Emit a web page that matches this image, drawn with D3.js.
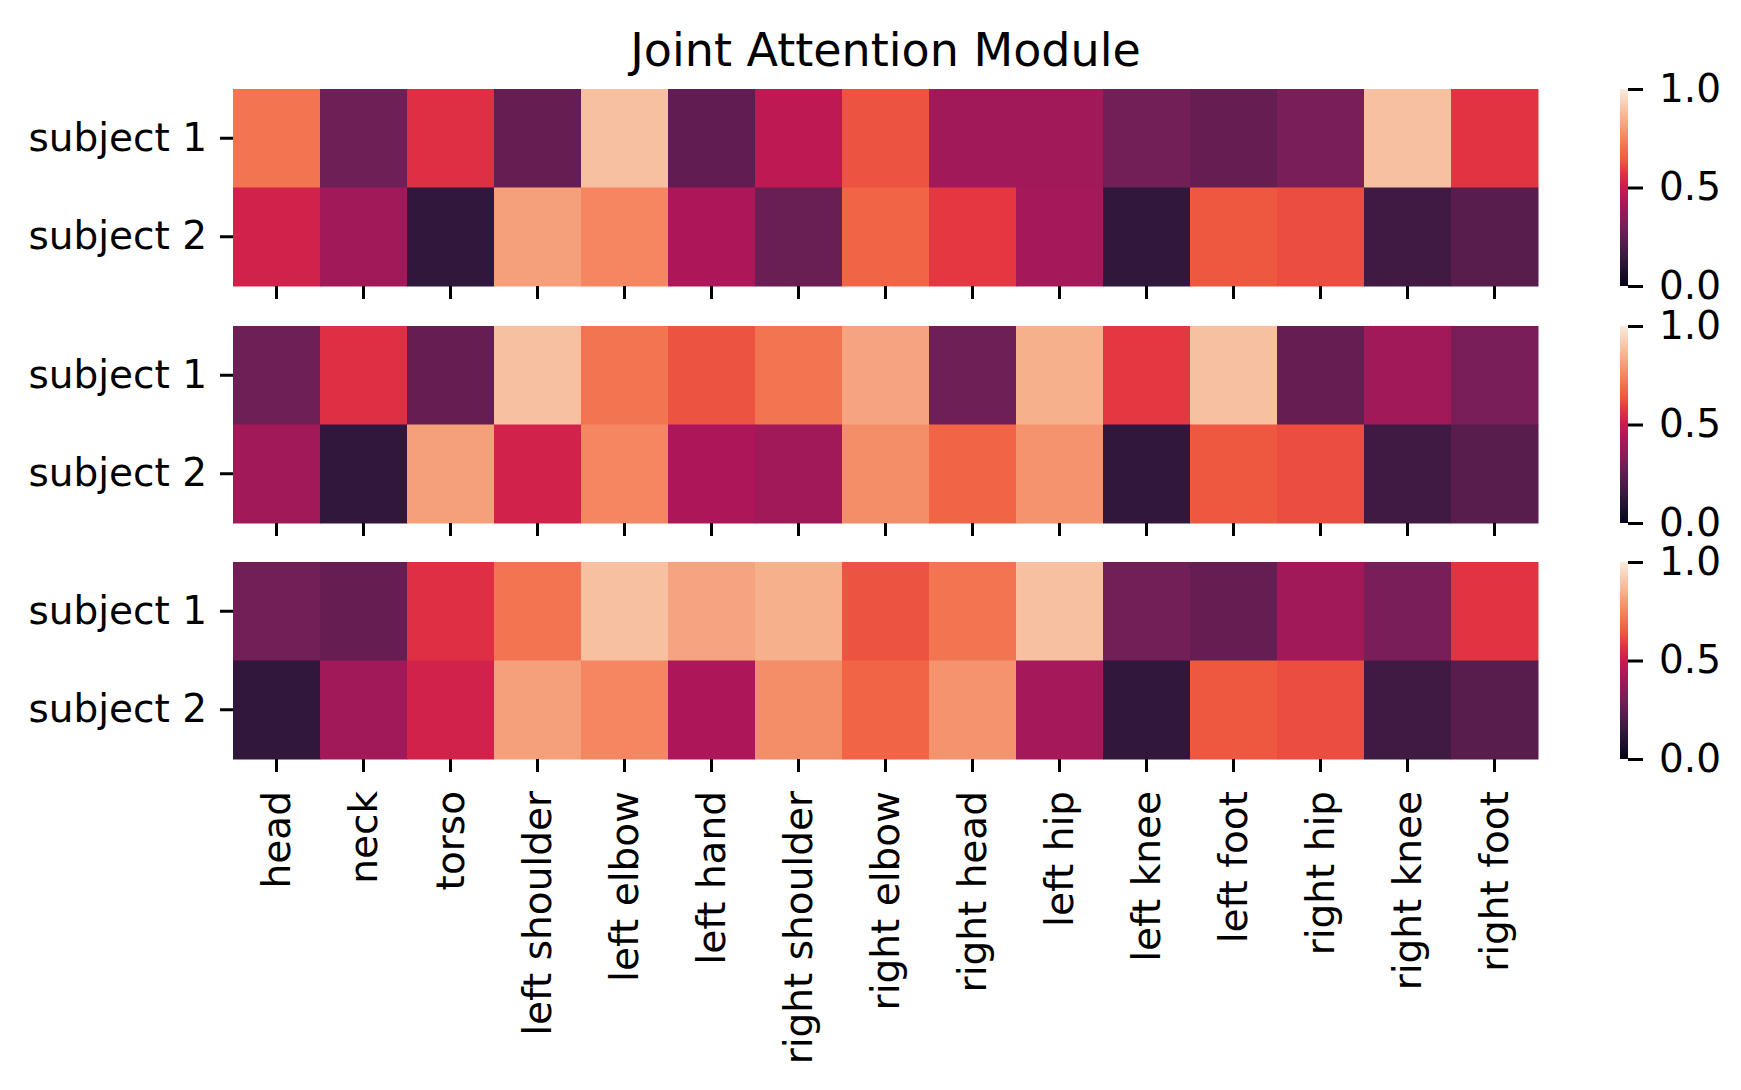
<!DOCTYPE html>
<html>
<head>
<meta charset="utf-8">
<script src="https://cdn.jsdelivr.net/npm/d3@7"></script>
<style>
  html, body { margin: 0; padding: 0; background: #fff; }
  text { font-family: "DejaVu Sans", sans-serif; fill: #000; }
</style>
</head>
<body>
<script>
var joints = ["head", "neck", "torso", "left shoulder", "left elbow", "left hand", "right shoulder",
	"right elbow", "right head", "left hip", "left knee", "left foot", "right hip", "right knee", "right foot"];
var subjects = ["subject 1", "subject 2"];
var cbarTicks = [0, 0.5, 1.0];

// values (one row per subject)
var panel1 = [
	[0.71, 0.28, 0.56, 0.26, 0.89, 0.25, 0.47, 0.63, 0.40, 0.40, 0.29, 0.26, 0.31, 0.89, 0.57],
	[0.52, 0.40, 0.13, 0.81, 0.75, 0.43, 0.27, 0.67, 0.58, 0.41, 0.13, 0.64, 0.62, 0.17, 0.23]
];
var panel2 = [
	[0.28, 0.56, 0.26, 0.89, 0.71, 0.63, 0.71, 0.82, 0.28, 0.85, 0.58, 0.89, 0.26, 0.40, 0.31],
	[0.40, 0.13, 0.81, 0.52, 0.75, 0.43, 0.40, 0.77, 0.67, 0.78, 0.13, 0.64, 0.62, 0.17, 0.23]
];
var panel3 = [
	[0.29, 0.26, 0.56, 0.71, 0.89, 0.82, 0.85, 0.63, 0.71, 0.89, 0.29, 0.26, 0.40, 0.31, 0.57],
	[0.13, 0.40, 0.52, 0.81, 0.75, 0.43, 0.77, 0.67, 0.78, 0.41, 0.13, 0.64, 0.62, 0.17, 0.23]
];
var panels = [panel1, panel2, panel3];

// seaborn "rocket" approximated by a few of its colours
var rocketPos = [0, 0.143, 0.286, 0.429, 0.5, 0.571, 0.643, 0.714, 0.857, 1];
var rocketCol = ["#03051a", "#35193e", "#701f57", "#ad1759", "#cb1b4f", "#e13342", "#ef5a40", "#f37651", "#f6b48f", "#faebdd"];

var W = 1741, H = 1090;
var left = 233, right = 1538;
var tops = [89, 326, 562], ph = 197;
var cbX = 1620, cbW = 8;
var fs = "39px";

var svg = d3.select("body").append("svg").attr("width", W).attr("height", H)
	.style("background", "#fff");

svg.append("text").attr("x", (left + right) / 2).attr("y", 66)
	.attr("text-anchor", "middle").style("font-size", "46px")
	.text("Joint Attention Module");

var x = d3.scaleBand().domain(joints).range([left, right]);
var color = d3.scaleLinear().domain(rocketPos).range(rocketCol).interpolate(d3.interpolateRgb).clamp(true);

var defs = svg.append("defs");
var grad = defs.append("linearGradient").attr("id", "rocketGrad")
	.attr("x1", 0).attr("y1", 1).attr("x2", 0).attr("y2", 0);
d3.range(0, 1.0001, 0.025).forEach(function(t){
	grad.append("stop").attr("offset", t).attr("stop-color", color(t));
});

function styleAxis(g){
	g.select(".domain").remove();
	g.selectAll(".tick line").attr("stroke", "#000").attr("stroke-width", 3);
	g.selectAll("text").attr("font-family", null).attr("font-size", null).style("font-size", fs);
}

panels.forEach(function(data, p){
	var top = tops[p];
	var y = d3.scaleBand().domain(subjects).range([top, top + ph]);
	var g = svg.append("g");

	var cells = [];
	data.forEach(function(row, i){
		row.forEach(function(v, j){
			cells.push({ s: subjects[i], j: joints[j], v: v });
		});
	});
	g.selectAll("rect.cell").data(cells).enter().append("rect").attr("class", "cell")
		.attr("x", function(d){ return x(d.j); })
		.attr("y", function(d){ return y(d.s); })
		.attr("width", x.bandwidth() + 0.5)
		.attr("height", y.bandwidth() + 0.5)
		.attr("fill", function(d){ return color(d.v); });

	// y axis
	var ya = svg.append("g").attr("transform", "translate(" + left + ",0)")
		.call(d3.axisLeft(y).tickSize(13).tickPadding(13));
	styleAxis(ya);

	// x axis
	var xa = svg.append("g").attr("transform", "translate(0," + (top + ph) + ")")
		.call(d3.axisBottom(x).tickSize(13).tickPadding(0));
	styleAxis(xa);
	if(p < panels.length - 1){
		xa.selectAll("text").remove();
	} else {
		xa.selectAll("text")
			.attr("transform", "rotate(-90)")
			.attr("text-anchor", "end")
			.attr("x", -32).attr("y", 0).attr("dy", "0.35em");
	}

	// colorbar
	svg.append("rect").attr("x", cbX).attr("y", top).attr("width", cbW).attr("height", ph)
		.attr("fill", "url(#rocketGrad)");
	var cb = d3.scaleLinear().domain([0, 1]).range([top + ph, top]);
	var ca = svg.append("g").attr("transform", "translate(" + (cbX + cbW) + ",0)")
		.call(d3.axisRight(cb).tickValues(cbarTicks).tickFormat(d3.format(".1f")).tickSize(15).tickPadding(16));
	styleAxis(ca);
});
</script>
</body>
</html>
